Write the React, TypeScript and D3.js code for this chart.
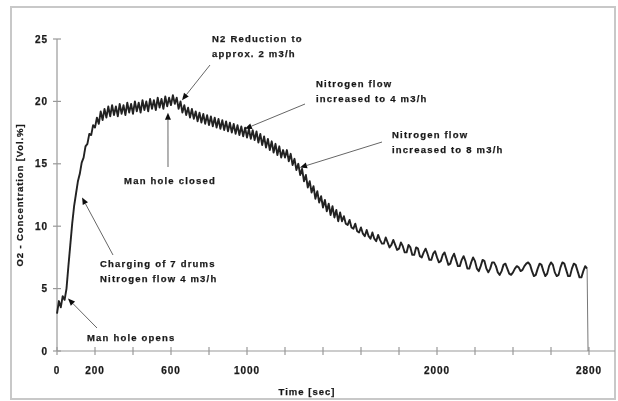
import React from "react";
import * as d3 from "d3";

// O2 concentration [Vol.%], sampled every 10 s from t = 0 s
const sampleStep = 10;
const o2Values: number[] = [
  3.0, 4.0, 3.5, 4.4, 4.1, 5.0, 6.8, 8.5, 10.2, 11.6,
  12.6, 13.6, 14.2, 15.1, 15.5, 16.4, 16.6, 17.4, 17.3, 18.1,
  17.9, 18.7, 18.2, 19.2, 18.5, 19.4, 18.7, 19.6, 18.8, 19.7,
  18.9, 19.6, 18.8, 19.8, 19.0, 19.7, 18.9, 19.9, 19.1, 19.8,
  19.0, 20.0, 19.2, 19.9, 19.1, 20.1, 19.3, 20.0, 19.2, 20.2,
  19.4, 20.1, 19.3, 20.3, 19.5, 20.2, 19.4, 20.4, 19.6, 20.3,
  19.7, 20.5, 19.8, 20.3, 19.4, 20.0, 19.1, 19.7, 18.9, 19.5,
  18.7, 19.4, 18.6, 19.2, 18.4, 19.1, 18.3, 19.0, 18.2, 18.9,
  18.1, 18.8, 18.0, 18.7, 17.9, 18.6, 17.8, 18.5, 17.7, 18.4,
  17.6, 18.3, 17.5, 18.2, 17.4, 18.1, 17.3, 18.0, 17.2, 17.9,
  17.1, 17.8, 17.0, 17.7, 16.9, 17.6, 16.7, 17.4, 16.5, 17.2,
  16.3, 17.0, 16.1, 16.8, 15.9, 16.6, 15.7, 16.4, 15.5, 16.1,
  15.5, 16.1, 15.2, 15.8, 14.9, 15.4, 14.5, 15.0, 14.1, 14.6,
  13.6, 14.1, 13.1, 13.6, 12.7, 13.2, 12.2, 12.8, 11.9, 12.4,
  11.5, 12.1, 11.2, 11.8, 10.9, 11.6, 10.7, 11.3, 10.4, 11.1,
  10.4, 10.8, 10.2, 10.1, 10.5, 9.9, 9.8, 10.2, 9.6, 9.5,
  9.9, 9.4, 9.2, 9.7, 9.2, 9.0, 9.5, 9.0, 8.8, 9.3,
  8.9, 8.6, 8.6, 9.1, 8.7, 8.3, 8.5, 8.9, 8.5, 8.1,
  8.2, 8.7, 8.4, 7.9, 7.9, 8.5, 8.3, 7.7, 7.7, 8.3,
  8.2, 7.6, 7.5, 7.9, 8.2, 7.8, 7.3, 7.3, 7.8, 8.0,
  7.5, 7.1, 7.2, 7.7, 7.9, 7.4, 6.9, 7.0, 7.5, 7.8,
  7.3, 6.8, 6.8, 7.3, 7.6, 7.2, 6.6, 6.6, 7.1, 7.5,
  7.2, 6.6, 6.4, 6.8, 7.3, 7.2, 6.6, 6.3, 6.6, 7.1,
  7.1, 6.8, 6.3, 6.1, 6.4, 6.9, 7.0, 6.6, 6.2, 6.1,
  6.3, 6.6, 6.8, 6.7, 6.4, 6.5, 6.8, 7.0, 7.1, 6.9,
  6.4, 6.0, 6.1, 6.6, 7.0, 6.9, 6.4, 6.0, 6.2, 6.8,
  7.1, 6.9, 6.3, 6.0, 6.1, 6.7, 7.1, 7.0, 6.5, 6.0,
  6.0, 6.6, 7.0, 6.9, 6.4, 5.9, 5.9, 6.4, 6.8, 6.6,
];
const dropTime = 2795; // recording stops, value falls to 0

const xTicks = [0, 200, 400, 600, 800, 1000, 1200, 1400, 1600, 1800, 2000, 2200, 2400, 2600, 2800];
const xTickLabels = [0, 200, 600, 1000, 2000, 2800];
const yTicks = [0, 5, 10, 15, 20, 25];

const annTexts = [
  ["N2 Reduction to", "approx. 2 m3/h"],
  ["Nitrogen flow", "increased to 4 m3/h"],
  ["Nitrogen flow", "increased to 8 m3/h"],
  ["Man hole closed"],
  ["Charging of 7 drums", "Nitrogen flow 4 m3/h"],
  ["Man hole opens"],
];
// arrow tip in data coordinates [time, value]
const annTips: [number, number][] = [
  [658, 20.1],
  [989, 17.8],
  [1279, 14.7],
  [584, 19.1],
  [132, 12.3],
  [58, 4.2],
];

export default function App() {
  const W = 618, H = 401;
  const x = d3.scaleLinear().domain([0, 2800]).range([57, 589]);
  const y = d3.scaleLinear().domain([0, 25]).range([351, 39]);

  const pts: [number, number][] = o2Values.map((v, i) => [i * sampleStep, v]);
  const last = pts[pts.length - 1];
  const line = d3.line<[number, number]>().x(d => x(d[0])).y(d => y(d[1]));

  const annLayout = [
    { tx: 212, ty: 42, tail: [210, 65], anchor: "start" },
    { tx: 316, ty: 87, tail: [305, 104], anchor: "start" },
    { tx: 392, ty: 138, tail: [382, 142], anchor: "start" },
    { tx: 170, ty: 184, tail: [168, 167], anchor: "middle" },
    { tx: 100, ty: 267, tail: [113, 255], anchor: "start" },
    { tx: 87, ty: 341, tail: [97, 328], anchor: "start" },
  ];

  const font = "'Liberation Sans', Arial, sans-serif";
  const txt = { fontFamily: font, fontWeight: "bold" as const, fill: "#1a1a1a", stroke: "#1a1a1a", strokeWidth: 0.25 };

  const arrow = (tail: number[], tip: [number, number], key: number) => {
    const x2 = x(tip[0]), y2 = y(tip[1]);
    const dx = x2 - tail[0], dy = y2 - tail[1];
    const len = Math.sqrt(dx * dx + dy * dy);
    const ux = dx / len, uy = dy / len;
    const L = 7, Wd = 3;
    const bx = x2 - ux * L, by = y2 - uy * L;
    const p1 = [bx - uy * Wd, by + ux * Wd];
    const p2 = [bx + uy * Wd, by - ux * Wd];
    return (
      <g key={key}>
        <line x1={tail[0]} y1={tail[1]} x2={bx} y2={by} stroke="#666" strokeWidth={1} />
        <path d={`M${x2},${y2}L${p1[0]},${p1[1]}L${p2[0]},${p2[1]}Z`} fill="#111" />
      </g>
    );
  };

  return (
    <svg width={W} height={H} style={{ position: "absolute", left: 0, top: 0, background: "#fff" }}>
      <defs>
        <filter id="soft" x="-5%" y="-5%" width="110%" height="110%">
          <feGaussianBlur stdDeviation="0.45" />
        </filter>
      </defs>
      <rect x={0} y={0} width={W} height={H} fill="#fff" />
      <rect x={11} y={7} width={604} height={392} fill="none" stroke="#c8c8c8" strokeWidth={2} />

      <g filter="url(#soft)">
        <line x1={x(0)} y1={y(25)} x2={x(0)} y2={y(0)} stroke="#999" strokeWidth={1.2} />
        {yTicks.map(t => (
          <g key={"y" + t}>
            <line x1={x(0) - 4} x2={x(0) + 4} y1={y(t)} y2={y(t)} stroke="#999" strokeWidth={1.2} />
            <text x={48} y={y(t) + 3.5} textAnchor="end" fontSize={10} letterSpacing={1} {...txt}>
              {t}
            </text>
          </g>
        ))}
        <line x1={x(0)} y1={y(0)} x2={615} y2={y(0)} stroke="#999" strokeWidth={1.2} />
        {xTicks.map(t => (
          <line key={"xt" + t} x1={x(t)} x2={x(t)} y1={y(0) - 4} y2={y(0) + 4} stroke="#999" strokeWidth={1.2} />
        ))}
        {xTickLabels.map(t => (
          <text key={"xl" + t} x={x(t)} y={374} textAnchor="middle" fontSize={10} letterSpacing={1} {...txt}>
            {t}
          </text>
        ))}
        <text x={307} y={395} textAnchor="middle" fontSize={9.5} letterSpacing={1} {...txt}>
          Time [sec]
        </text>
        <text transform="translate(23,195) rotate(-90)" textAnchor="middle" fontSize={9.5} letterSpacing={0.9} {...txt}>
          O2 - Concentration [Vol.%]
        </text>

        <path d={line(pts) || ""} fill="none" stroke="#222" strokeWidth={1.9} strokeLinejoin="round" />
        <line x1={x(last[0])} y1={y(last[1])} x2={x(dropTime)} y2={y(0)} stroke="#777" strokeWidth={1} />

        {annTexts.map((lines, i) => {
          const l = annLayout[i];
          return (
            <g key={"a" + i}>
              {arrow(l.tail, annTips[i], i)}
              {lines.map((s, j) => (
                <text key={j} x={l.tx} y={l.ty + j * 15} textAnchor={l.anchor as any} fontSize={9.5} letterSpacing={1.2} {...txt}>
                  {s}
                </text>
              ))}
            </g>
          );
        })}
      </g>
    </svg>
  );
}
